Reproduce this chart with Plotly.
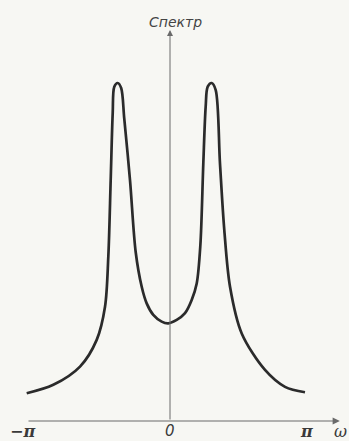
import plotly.graph_objects as go

# Spectrum curve (omega in radians, spectrum in arbitrary units, peak = 10)
omega = [-3.257, -2.652, -2.045, -1.666, -1.477, -1.402, -1.348, -1.302, -1.266, -1.189,
         -1.110, -1.040, -0.909, -0.780, -0.643, -0.530, -0.380, -0.189, -0.040,
         0.152, 0.341, 0.493, 0.607, 0.690, 0.757, 0.811, 0.857, 0.948, 1.039, 1.136,
         1.234, 1.364, 1.630, 2.159, 2.614, 3.068]
spectrum = [0.82, 1.07, 1.61, 2.40, 3.38, 4.86, 7.13, 9.11, 9.89, 10.0,
            9.85, 8.95, 7.13, 5.00, 3.97, 3.48, 3.14, 2.94, 2.89,
            2.99, 3.19, 3.58, 4.07, 5.20, 7.62, 9.30, 9.89, 10.0, 9.79, 7.62,
            5.65, 3.97, 2.59, 1.51, 1.01, 0.85]

tick_labels = ["\u2212\u03c0", "0", "\u03c0"]
axis_title_x = "\u03c9"
axis_title_y = "\u0421\u043f\u0435\u043a\u0442\u0440"

W, H = 349, 441
bg = "#f7f7f3"
ink = "#2b2b2b"
axis_col = "#6a6a6a"

fig = go.Figure()
fig.add_trace(go.Scatter(x=omega, y=spectrum, mode="lines",
                         line=dict(color=ink, width=2.7, shape="spline", smoothing=0.9),
                         hoverinfo="skip", showlegend=False))

# axes with arrows
fig.add_annotation(x=3.86, y=0, ax=-3.25, ay=0, xref="x", yref="y", axref="x", ayref="y",
                   text="", showarrow=True, arrowhead=2, arrowsize=1.2, arrowwidth=1.2,
                   arrowcolor=axis_col)
fig.add_annotation(x=0, y=11.57, ax=0, ay=0, xref="x", yref="y", axref="x", ayref="y",
                   text="", showarrow=True, arrowhead=2, arrowsize=1.2, arrowwidth=1.0,
                   arrowcolor=axis_col)

# text labels (positioned in paper coords)
def px(x, y):
    return x / W, 1 - y / H

labels = [
    ("<b><i>" + tick_labels[0] + "</i></b>", 22, 431, 16, "DejaVu Serif"),
    ("<i>" + tick_labels[1] + "</i>", 170, 431, 15, "DejaVu Sans"),
    ("<b><i>" + tick_labels[2] + "</i></b>", 306, 431, 16, "DejaVu Serif"),
    ("<i>" + axis_title_x + "</i>", 340, 431, 16, "DejaVu Serif"),
]
for t, x, y, s, f in labels:
    xx, yy = px(x, y)
    fig.add_annotation(x=xx, y=yy, xref="paper", yref="paper", text=t, showarrow=False,
                       font=dict(size=s, color="#3a3a3a", family=f),
                       xanchor="center", yanchor="middle")

xx, yy = px(175, 22)
fig.add_annotation(x=xx, y=yy, xref="paper", yref="paper", text="<i>" + axis_title_y + "</i>",
                   showarrow=False, font=dict(size=14, color="#444444", family="DejaVu Sans"),
                   xanchor="center", yanchor="middle")

k = 44.0
ky = 33.8
fig.update_layout(
    width=W, height=H,
    margin=dict(l=0, r=0, t=0, b=0),
    paper_bgcolor=bg, plot_bgcolor=bg,
    xaxis=dict(range=[-170 / k, (W - 170) / k], visible=False, fixedrange=True),
    yaxis=dict(range=[-(H - 421) / ky, 421 / ky], visible=False, fixedrange=True),
    showlegend=False,
)

fig.write_html("out.html", config={"displayModeBar": False},
               post_script="document.body.style.margin='0';document.body.style.overflow='hidden';document.body.style.background='%s';" % bg)
